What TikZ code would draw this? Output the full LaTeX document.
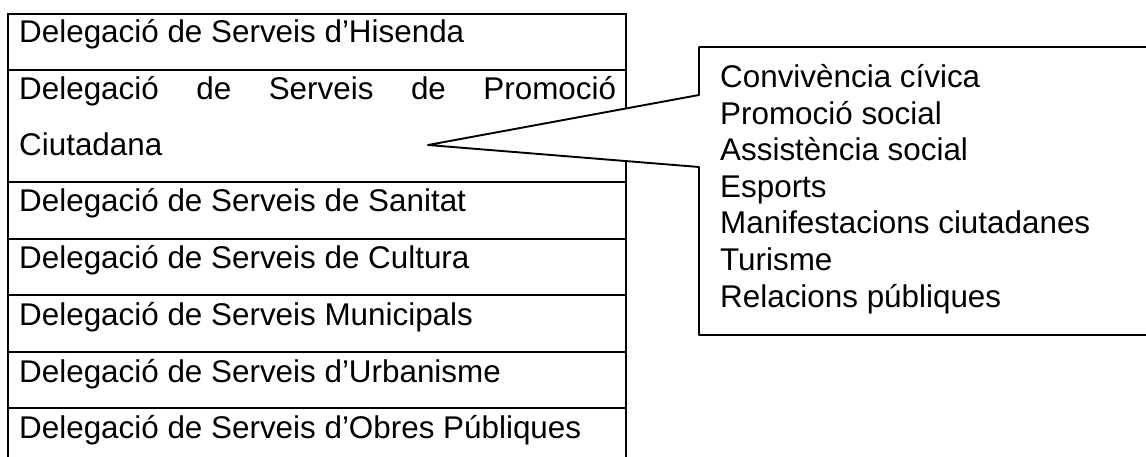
\documentclass[tikz,border=0pt]{standalone}
\usepackage{fontspec}
\setmainfont{Liberation Sans}
\begin{document}
\begin{tikzpicture}[x=1pt,y=-1pt,
  rule/.style={line width=2.2pt},
  callout/.style={line width=1.9pt,fill=white,line join=round},
  lbl/.style={anchor=base west,inner sep=0pt,font=\fontsize{31.4}{36}\selectfont},
]
\useasboundingbox (0,0) rectangle (1146,457);
\clip (0,0) rectangle (1146,457);
% table of delegations
\draw[rule] (8,470) -- (8,14) -- (626,14) -- (626,470);
\foreach \y in {70,182,239,295,352,408} \draw[rule] (8,\y) -- (626,\y);
\node[lbl] (r1) at (19,43) {Delegació de Serveis d’Hisenda};
\node[lbl] (r2a) at (19,100) {\hbox to 597pt{Delegació\hfill de\hfill Serveis\hfill de\hfill Promoció}};
\node[lbl] (r2b) at (19,156) {Ciutadana};
\node[lbl] (r3) at (19,212) {Delegació de Serveis de Sanitat};
\node[lbl] (r4) at (19,269) {Delegació de Serveis de Cultura};
\node[lbl] (r5) at (19,325) {Delegació de Serveis Municipals};
\node[lbl] (r6) at (19,382) {Delegació de Serveis d’Urbanisme};
\node[lbl] (r7) at (19,438) {Delegació de Serveis d’Obres Públiques};
% callout
\coordinate (tip) at (428,145);
\filldraw[callout] (699,95) -- (699,47) -- (1170,47) -- (1170,335) -- (699,335) -- (699,167) -- (tip) -- cycle;
\node[lbl] (c1) at (720,88) {Convivència cívica};
\node[lbl] (c2) at (720,124.5) {Promoció social};
\node[lbl] (c3) at (720,161) {Assistència social};
\node[lbl] (c4) at (720,197.5) {Esports};
\node[lbl] (c5) at (720,234) {Manifestacions ciutadanes};
\node[lbl] (c6) at (720,270.5) {Turisme};
\node[lbl] (c7) at (720,307) {Relacions públiques};
\end{tikzpicture}
\end{document}
